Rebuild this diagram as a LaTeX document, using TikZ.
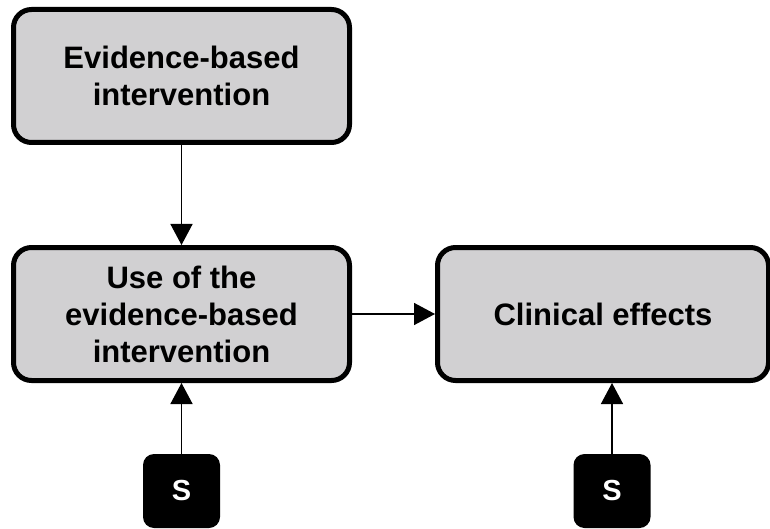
\documentclass[tikz,border=0pt]{standalone}
\usepackage{fontspec}
\setmainfont{Liberation Sans}
\usetikzlibrary{arrows.meta}
\definecolor{boxgray}{RGB}{209,208,210}
\begin{document}
\begin{tikzpicture}[x=1pt,y=-1pt,
  mainbox/.style={draw=black, line width=5pt, fill=boxgray, rounded corners=18pt,
    align=center, font=\fontsize{31}{37}\selectfont\bfseries, inner sep=0pt},
  sbox/.style={fill=black, rounded corners=11pt, minimum width=77pt, minimum height=74pt,
    inner sep=0pt, text=white, font=\fontsize{29}{34}\selectfont\bfseries},
  conn/.style={line width=1.5pt, -{Triangle[length=21pt,width=22pt]}}]
\useasboundingbox (0,0) rectangle (770,529);
\node[mainbox, minimum width=336pt, minimum height=133pt] (ebi) at (181.5,76) {Evidence-based\\intervention};
\node[mainbox, minimum width=336pt, minimum height=133pt] (use) at (181.5,314) {Use of the\\evidence-based\\intervention};
\node[mainbox, minimum width=331pt, minimum height=133pt] (eff) at (603,314) {Clinical effects};
\node[sbox] (s1) at (181.5,491) {S};
\node[sbox] (s2) at (612,491) {S};
\draw[conn] (ebi.south) -- (use.north);
\draw[conn] (use.east) -- (eff.west);
\draw[conn] (s1.north) -- (use.south);
\draw[conn] (s2.north) -- (s2.north |- eff.south);
\end{tikzpicture}
\end{document}
